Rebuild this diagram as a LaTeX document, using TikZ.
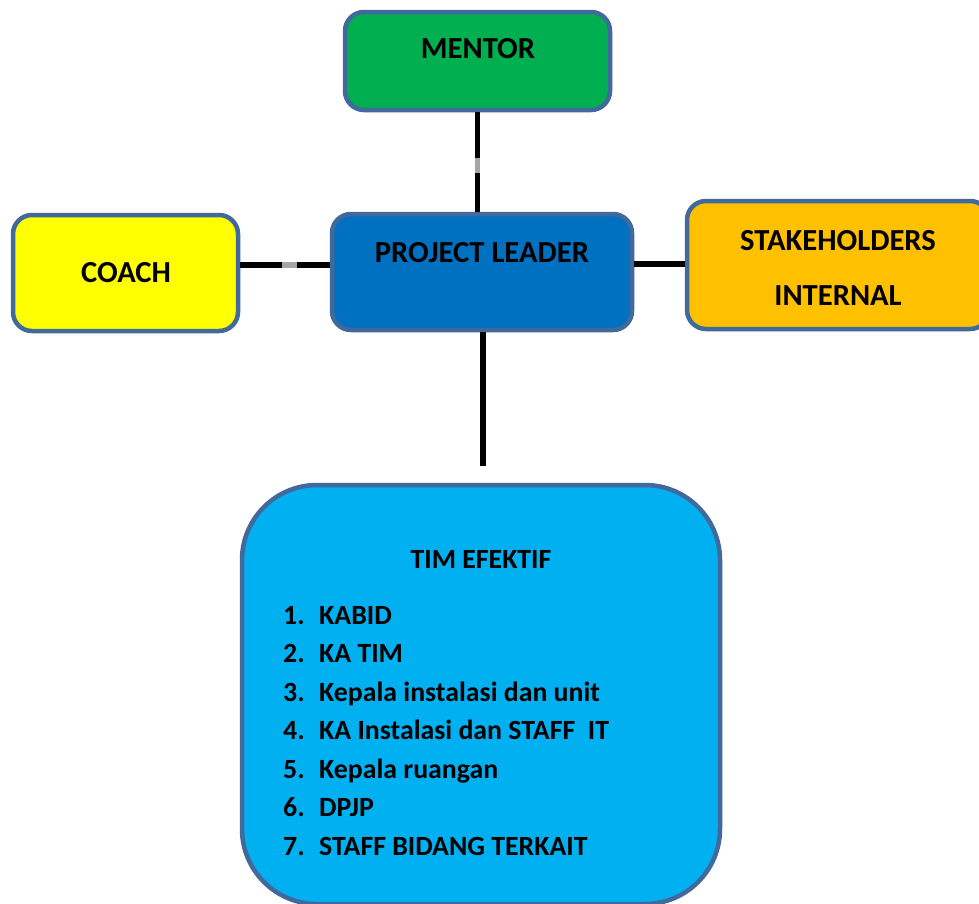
\documentclass[tikz,border=0pt]{standalone}
\usepackage{fontspec}
\setmainfont{Carlito}
\usetikzlibrary{calc}
\definecolor{bord}{HTML}{41699B}
\definecolor{mentorfill}{HTML}{00B050}
\definecolor{leaderfill}{HTML}{0070C0}
\definecolor{coachfill}{HTML}{FFFF00}
\definecolor{stakefill}{HTML}{FFC000}
\definecolor{timfill}{HTML}{00B0F0}
\definecolor{segray}{HTML}{A6A6A6}
\begin{document}
\begin{tikzpicture}[x=1pt,y=-1pt,
  box/.style={draw=bord, line width=4.5pt, rounded corners=19pt, inner sep=0pt},
  hd/.style={font=\fontsize{30.6}{36}\selectfont\bfseries, anchor=base, inner sep=0pt},
  li/.style={font=\fontsize{27.8}{33}\selectfont\bfseries, anchor=base west, inner sep=0pt},
  conn/.style={line width=5.5pt, draw=black},
  gseg/.style={line width=5.5pt, draw=segray}]
\useasboundingbox (0,0) rectangle (979,903);
\clip (0,0) rectangle (979,903);
\fill[white] (0,0) rectangle (979,903);

% boxes
\node[box, fill=mentorfill, minimum width=265pt, minimum height=98pt] (mentor) at (477.5,61) {};
\node[box, fill=leaderfill, minimum width=300pt, minimum height=116pt] (leader) at (482,272) {};
\node[box, fill=coachfill, minimum width=225pt, minimum height=116pt] (coach) at (125.5,273) {};
\node[box, fill=stakefill, minimum width=302pt, minimum height=128pt] (stake) at (838,265) {};
\node[box, fill=timfill, rounded corners=75pt, minimum width=478pt, minimum height=419pt] (tim) at (481,694.5) {};

% texts
\node[hd] (tmentor) at (478,58) {MENTOR};
\node[hd] (tleader) at (482,262) {PROJECT LEADER};
\node[hd] (tcoach) at (126,282) {COACH};
\node[hd] (tstake1) at (838,250) {STAKEHOLDERS};
\node[hd] (tstake2) at (838,305) {INTERNAL};
\node[li, anchor=base] (ttim) at (481,568) {TIM EFEKTIF};
\foreach \i/\t [count=\k from 0] in {1/KABID,2/KA TIM,3/Kepala instalasi dan unit,4/KA Instalasi dan STAFF\ \ IT,5/Kepala ruangan,6/DPJP,7/STAFF BIDANG TERKAIT}{
  \node[li] (num\i) at (283,624+38.5*\k) {\i.};
  \node[li] (item\i) at (319,624+38.5*\k) {\t};
}

% connectors
\coordinate (cy) at (0,265);
\coordinate (sy) at (0,264);
\coordinate (bend) at (483,466);
\draw[conn] (mentor.south) -- (mentor.south |- leader.north);
\draw[gseg] ($(mentor.south)!0.46!(mentor.south |- leader.north)$) -- ($(mentor.south)!0.61!(mentor.south |- leader.north)$);
\draw[conn] (coach.east |- cy) -- (leader.west |- cy);
\draw[gseg] ($(coach.east |- cy)!0.47!(leader.west |- cy)$) -- ($(coach.east |- cy)!0.63!(leader.west |- cy)$);
\draw[conn] (leader.east |- sy) -- (stake.west |- sy);
\draw[conn] (leader.south -| bend) -- (bend);
\end{tikzpicture}
\end{document}
